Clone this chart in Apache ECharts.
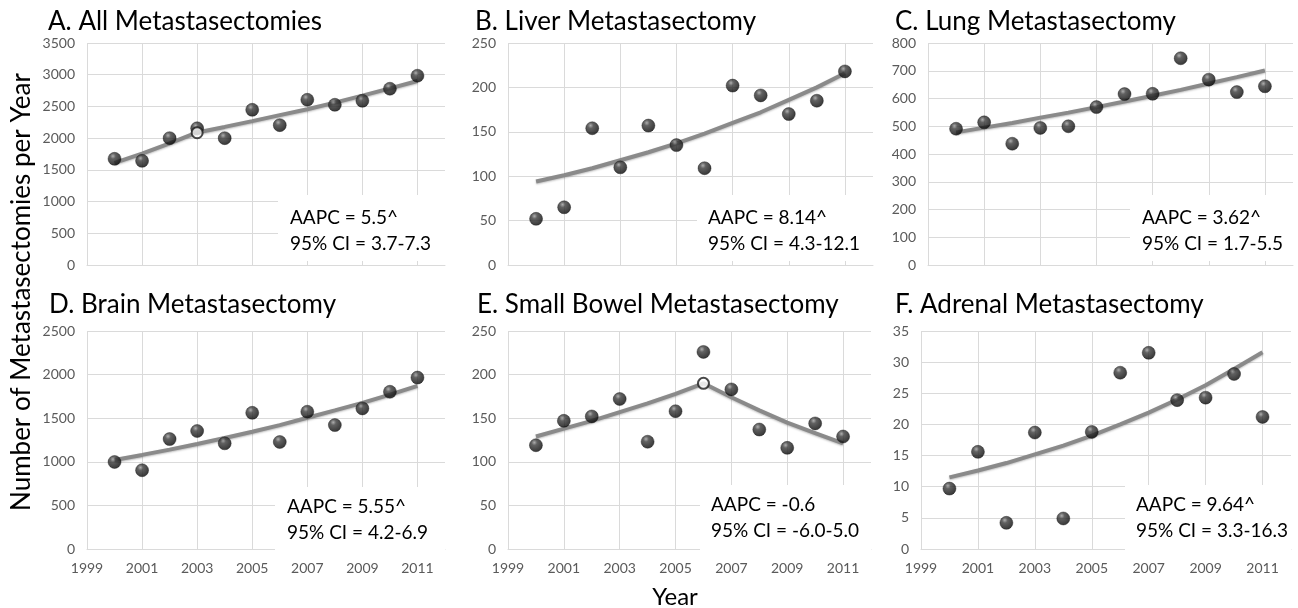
<!DOCTYPE html>
<html>
<head>
<meta charset="utf-8">
<script src="https://cdn.jsdelivr.net/npm/echarts@6/dist/echarts.min.js"></script>
<style>
  html, body { margin: 0; padding: 0; background: #fff; }
  #main { width: 1298px; height: 608px; }
</style>
</head>
<body>
<div id="main"></div>
<script>
// ---- data ----
var axisYears = ['1999', '2000', '2001', '2002', '2003', '2004', '2005', '2006', '2007', '2008', '2009', '2010', '2011', '2012'];
var years = ['2000', '2001', '2002', '2003', '2004', '2005', '2006', '2007', '2008', '2009', '2010', '2011'];

var allCounts = [1674, 1642, 2000, 2155, 2000, 2447, 2205, 2605, 2526, 2589, 2779, 2984];
var allTrend = [1610, 1757, 1916, 2090, 2177, 2268, 2363, 2455, 2560, 2670, 2784, 2900];

var liverCounts = [52, 65, 154, 110, 157, 135, 109, 202, 191, 170, 185, 218];
var liverTrend = [94, 101, 109, 118, 127, 137, 148, 160, 172, 186, 200, 216];

var lungCounts = [491, 514, 437, 494, 500, 569, 616, 617, 745, 668, 623, 644];
var lungTrend = [478, 495, 512, 531, 549, 569, 589, 610, 631, 654, 677, 701];

var brainCounts = [998, 903, 1261, 1353, 1212, 1562, 1227, 1574, 1421, 1612, 1803, 1966];
var brainTrend = [1021, 1079, 1140, 1204, 1273, 1345, 1421, 1505, 1590, 1676, 1771, 1871];

var bowelCounts = [119, 147, 152, 172, 123, 158, 226, 183, 137, 116, 144, 129];
var bowelTrend = [129, 138, 147, 157, 167, 178, 190, 174, 159, 145, 133, 121];

var adrenalCounts = [9.7, 15.6, 4.2, 18.7, 4.9, 18.8, 28.3, 31.5, 23.9, 24.3, 28.1, 21.2];
var adrenalTrend = [11.5, 12.6, 13.8, 15.2, 16.6, 18.2, 20.0, 21.9, 24.0, 26.3, 28.9, 31.6];

// joinpoints (open circles)
var allJoin = [['2003', 2085]];
var bowelJoin = [['2006', 190]];

var panelTitles = ['A. All Metastasectomies', 'B. Liver Metastasectomy', 'C. Lung Metastasectomy',
                   'D. Brain Metastasectomy', 'E. Small Bowel Metastasectomy', 'F. Adrenal Metastasectomy'];
var aapcLabels = ['AAPC = 5.5^', 'AAPC = 8.14^', 'AAPC = 3.62^', 'AAPC = 5.55^', 'AAPC = -0.6', 'AAPC = 9.64^'];
var ciLabels = ['95% CI = 3.7-7.3', '95% CI = 4.3-12.1', '95% CI = 1.7-5.5',
                '95% CI = 4.2-6.9', '95% CI = -6.0-5.0', '95% CI = 3.3-16.3'];
var yMax = [3500, 250, 800, 2500, 250, 35];
var yStep = [500, 50, 100, 500, 50, 5];

var countsList = [allCounts, liverCounts, lungCounts, brainCounts, bowelCounts, adrenalCounts];
var trendList = [allTrend, liverTrend, lungTrend, brainTrend, bowelTrend, adrenalTrend];
var joinList = [allJoin, [], [], [], bowelJoin, []];

// ---- layout (pixels) ----
var boxes = [
    { left: 87, top: 43, width: 358, height: 222, tx: 48, ty: 22, nx: 290, ny: 218, bx: 278, by: 195, bw: 167, bh: 66 },
    { left: 508, top: 43, width: 365, height: 222, tx: 475, ty: 22, nx: 708, ny: 218, bx: 697, by: 195, bw: 176, bh: 66 },
    { left: 928, top: 43, width: 365, height: 222, tx: 895, ty: 22, nx: 1142, ny: 218, bx: 1130, by: 195, bw: 163, bh: 66 },
    { left: 87, top: 331, width: 358, height: 218, tx: 49, ty: 305, nx: 287, ny: 507, bx: 275, by: 487, bw: 170, bh: 64 },
    { left: 508, top: 331, width: 363, height: 218, tx: 477, ty: 305, nx: 711, ny: 505, bx: 700, by: 485, bw: 171, bh: 66 },
    { left: 921, top: 331, width: 370, height: 218, tx: 895, ty: 305, nx: 1136, ny: 505, bx: 1125, by: 485, bw: 166, bh: 66 }
];

var FONT = 'Lato, "Open Sans", sans-serif';
var gridColor = '#dadada';
var sphere = {  // shaded ball look
    type: 'radial', x: 0.38, y: 0.3, r: 0.7,
    colorStops: [
        { offset: 0, color: '#9a9a9a' },
        { offset: 0.3, color: '#3a3a3a' },
        { offset: 1, color: '#050505' }
    ]
};

var grids = [], xAxes = [], yAxes = [], series = [], graphics = [];

boxes.forEach(function (b, i) {
    grids.push({ left: b.left, top: b.top, width: b.width, height: b.height, containLabel: false });
    xAxes.push({
        type: 'category', gridIndex: i, data: axisYears, boundaryGap: false,
        axisLine: { show: true, lineStyle: { color: gridColor } },
        axisTick: { show: false },
        axisLabel: { show: i >= 3, interval: 1, color: '#5a5a5a', fontSize: 14, fontFamily: FONT, margin: 12 },
        splitLine: { show: true, interval: 1, lineStyle: { color: gridColor } }
    });
    yAxes.push({
        type: 'value', gridIndex: i, min: 0, max: yMax[i], interval: yStep[i],
        axisLine: { show: false }, axisTick: { show: false },
        axisLabel: {
            color: '#5a5a5a', fontSize: 14, fontFamily: FONT, margin: 12,
            formatter: function (v) { return String(v); }
        },
        splitLine: { lineStyle: { color: gridColor } }
    });

    var trend = trendList[i], counts = countsList[i];
    series.push({
        type: 'line', xAxisIndex: i, yAxisIndex: i, showSymbol: false, z: 2,
        data: years.map(function (y, k) { return [y, trend[k]]; }),
        lineStyle: { color: '#8a8a8a', width: 4, shadowColor: 'rgba(0,0,0,0.25)', shadowBlur: 2, shadowOffsetY: 1 }
    });
    series.push({
        type: 'scatter', xAxisIndex: i, yAxisIndex: i, symbolSize: 13, z: 3,
        data: years.map(function (y, k) { return [y, counts[k]]; }),
        itemStyle: { color: sphere, borderColor: '#111', borderWidth: 0.5 }
    });
    if (joinList[i].length) {
        series.push({
            type: 'scatter', xAxisIndex: i, yAxisIndex: i, symbolSize: 11, z: 4,
            data: joinList[i],
            itemStyle: { color: '#fff', borderColor: '#1a1a1a', borderWidth: 2 }
        });
    }

    // panel title
    graphics.push({
        type: 'text', x: b.tx, y: b.ty, z: 60,
        style: { text: panelTitles[i], font: '26px ' + FONT, fill: '#000', verticalAlign: 'middle' }
    });
    // white box behind the AAPC note
    graphics.push({
        type: 'rect', z: 50, shape: { x: b.bx, y: b.by, width: b.bw, height: b.bh },
        style: { fill: '#fff' }
    });
    graphics.push({
        type: 'text', x: b.nx, y: b.ny, z: 60,
        style: { text: aapcLabels[i], font: '19px ' + FONT, fill: '#000', verticalAlign: 'middle' }
    });
    graphics.push({
        type: 'text', x: b.nx, y: b.ny + 26, z: 60,
        style: { text: ciLabels[i], font: '19px ' + FONT, fill: '#000', verticalAlign: 'middle' }
    });
});

// shared axis titles
graphics.push({
    type: 'text', x: 22, y: 292, rotation: Math.PI / 2, z: 60,
    style: { text: 'Number of Metastasectomies per Year', font: '26px ' + FONT, fill: '#000', align: 'center', verticalAlign: 'middle' }
});
graphics.push({
    type: 'text', x: 675, y: 597, z: 60,
    style: { text: 'Year', font: '24px ' + FONT, fill: '#000', align: 'center', verticalAlign: 'middle' }
});

var myChart = echarts.init(document.getElementById('main'));
myChart.setOption({
    animation: false,
    grid: grids,
    xAxis: xAxes,
    yAxis: yAxes,
    series: series,
    graphic: graphics
});
</script>
</body>
</html>
